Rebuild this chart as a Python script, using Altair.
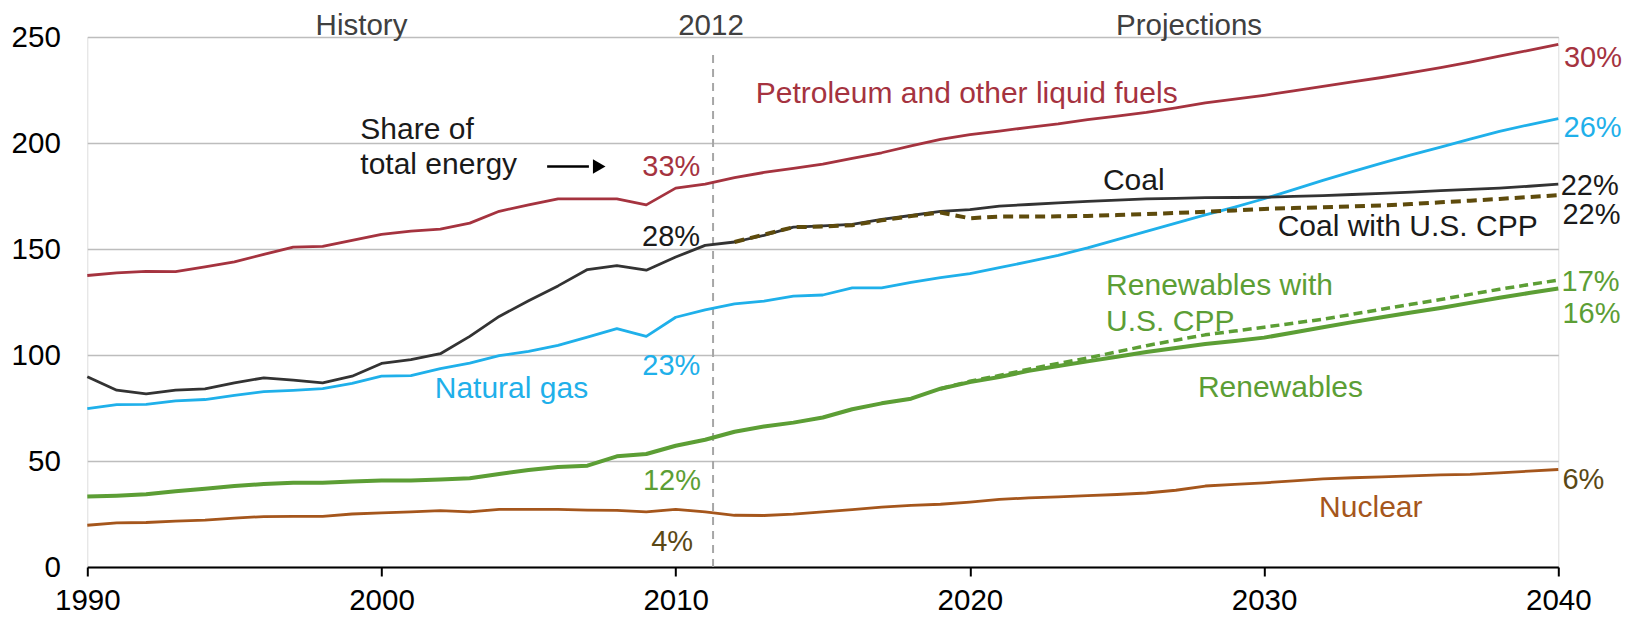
import altair as alt
import pandas as pd

# ---------------- data ----------------
years = list(range(1990, 2041))

petroleum = [137.5, 138.7, 139.4, 139.3, 141.6, 143.9, 147.5, 150.9, 151.2, 154.1,
             156.9, 158.4, 159.4, 162.2, 167.8, 170.8, 173.6, 173.6, 173.6, 170.8,
             178.7, 180.6, 183.7, 186.1, 188.0, 190.0, 192.8, 195.4, 198.6, 201.7,
             204.0, 205.6, 207.4, 209.0, 211.0, 212.7, 214.4, 216.6, 218.9, 220.7,
             222.5, 224.6, 226.7, 228.8, 230.9, 233.2, 235.6, 238.2, 241.0, 243.7,
             246.5]

coal = [89.7, 83.4, 81.7, 83.4, 84.0, 86.9, 89.2, 88.1, 86.9, 90.0,
        96.0, 97.8, 100.6, 108.8, 118.2, 125.6, 132.6, 140.3, 142.2, 140.0,
        146.2, 151.7, 153.3, 156.4, 160.3, 160.9, 161.6, 164.0, 165.8, 167.7,
        168.6, 170.2, 171.0, 171.8, 172.5, 173.1, 173.6, 173.9, 174.2, 174.3,
        174.4, 174.8, 175.2, 175.7, 176.2, 176.8, 177.5, 178.1, 178.7, 179.6,
        180.6]

natural_gas = [74.7, 76.6, 76.7, 78.4, 79.0, 81.0, 82.7, 83.3, 84.1, 86.6,
               90.0, 90.3, 93.6, 96.2, 99.7, 101.7, 104.5, 108.4, 112.4, 108.8,
               117.8, 121.3, 124.1, 125.4, 127.8, 128.3, 131.7, 131.7, 134.2, 136.5,
               138.4, 141.2, 144.0, 147.0, 150.5, 154.4, 158.3, 162.2, 166.1, 169.8,
               173.7, 178.0, 182.4, 186.5, 190.5, 194.4, 198.1, 201.8, 205.5, 208.6,
               211.5]

renewables = [33.2, 33.6, 34.3, 35.7, 36.9, 38.2, 39.1, 39.7, 39.7, 40.3,
              40.8, 40.8, 41.3, 41.9, 43.9, 45.8, 47.2, 47.8, 52.2, 53.3,
              57.2, 60.0, 63.8, 66.3, 68.1, 70.5, 74.4, 77.2, 79.4, 84.1,
              87.2, 89.6, 92.5, 94.8, 97.0, 99.2, 101.4, 103.3, 105.2, 106.6,
              108.2, 110.6, 113.1, 115.5, 117.8, 120.0, 122.2, 124.6, 127.0, 129.2,
              131.4]

nuclear = [19.7, 20.8, 21.0, 21.6, 22.1, 23.1, 23.8, 23.9, 23.9, 25.0,
           25.5, 26.0, 26.6, 26.0, 27.2, 27.2, 27.2, 26.8, 26.7, 26.0,
           27.2, 26.0, 24.4, 24.3, 24.9, 26.0, 27.1, 28.2, 29.1, 29.6,
           30.6, 31.9, 32.6, 33.1, 33.7, 34.2, 34.9, 36.2, 38.2, 39.0,
           39.7, 40.6, 41.6, 42.1, 42.5, 43.0, 43.5, 43.7, 44.4, 45.2,
           46.0]

coal_cpp_years = list(range(2012, 2041))
coal_cpp = [153.3, 156.8, 160.3, 160.6, 161.2, 163.5, 165.5, 167.2, 164.5, 165.3,
            165.3, 165.4, 165.6, 166.0, 166.5, 167.0, 167.6, 168.2, 168.9, 169.3,
            169.7, 170.1, 170.5, 171.2, 172.0, 172.8, 173.6, 174.5, 175.4]

ren_cpp_years = list(range(2019, 2041))
renewables_cpp = [84.1, 87.6, 90.3, 93.3, 96.0, 98.6, 101.5, 104.4, 107.0, 109.5,
                  111.3, 113.1, 115.0, 116.9, 119.2, 121.6, 123.9, 126.2, 128.6, 131.0,
                  133.2, 135.3]

x_ticks = [1990, 2000, 2010, 2020, 2030, 2040]
y_ticks = [0, 50, 100, 150, 200, 250]

history_end = 2011.27

# annotation texts (positions in data units)
center_texts = ["History", "2012", "Projections"]
center_x = [1999.32, 2011.2, 2027.45]
center_y = [251.0, 251.0, 251.0]

word_texts = ["Share of", "total energy", "Petroleum and other liquid fuels", "Natural gas",
              "Coal", "Coal with U.S. CPP", "Renewables with", "U.S. CPP", "Renewables", "Nuclear"]
word_x = [1999.28, 1999.28, 2012.72, 2001.81, 2024.52, 2030.46, 2024.63, 2024.63, 2027.75, 2031.87]
word_y = [201.8, 185.3, 218.9, 79.9, 177.8, 155.9, 128.3, 111.1, 80.2, 23.6]
word_key = ["black", "black", "pet", "gas", "black", "black", "ren", "ren", "ren", "nuc"]

right_pct = ["30%", "26%", "22%", "22%", "17%", "16%", "6%"]
right_x = [2040.19, 2040.18, 2040.08, 2040.14, 2040.11, 2040.14, 2040.14]
right_y = [236.0, 203.0, 175.6, 161.6, 130.3, 115.0, 36.6]
right_key = ["pet", "gas", "black", "black", "ren", "ren", "olive"]

left_pct = ["33%", "28%", "23%", "12%", "4%"]
left_x = [2010.84, 2010.83, 2010.84, 2010.86, 2010.59]
left_y = [184.5, 151.3, 90.5, 36.5, 7.7]
left_key = ["pet", "black", "gas", "ren", "olive"]

arrow_x = [2005.63, 2007.05]
arrow_y = 188.9
arrow_head_x = 2007.4

# ---------------- styles ----------------
COL = {
    "pet": "#a5333f",
    "gas": "#1fb0ea",
    "black": "#1a1a1a",
    "coal": "#333333",
    "coalcpp": "#5e4b0c",
    "ren": "#5c9e35",
    "nuc": "#a5561c",
    "olive": "#5a4815",
    "head": "#404040",
}
FONT = "Liberation Sans, Arial, sans-serif"

x_scale = alt.Scale(domain=[1990, 2040], nice=False, zero=False)
y_scale = alt.Scale(domain=[0, 250], nice=False, zero=True)

x_axis = alt.Axis(values=x_ticks, format="d", title=None, grid=False,
                  domainColor="#000000", domainWidth=2, tickColor="#000000",
                  tickWidth=2, tickSize=9, labelPadding=10, labelFontSize=29.5,
                  labelColor="#000000", labelFont=FONT, labelFlush=False)
y_axis = alt.Axis(values=y_ticks, title=None, grid=True, gridColor="#bdbdbd",
                  gridWidth=1.5, domain=False, ticks=False, labelPadding=27,
                  labelFontSize=29.5, labelColor="#000000", labelFont=FONT)


def X(field="year"):
    return alt.X(f"{field}:Q", scale=x_scale, axis=x_axis)


def Y(field="value"):
    return alt.Y(f"{field}:Q", scale=y_scale, axis=y_axis)


def line(xs, ys, color, width, dash=None):
    df = pd.DataFrame({"year": xs, "value": ys})
    kw = dict(color=color, strokeWidth=width, strokeJoin="round")
    if dash:
        kw["strokeDash"] = dash
        kw["strokeCap"] = "butt"
    return alt.Chart(df).mark_line(**kw).encode(x=X(), y=Y())


layers = []

# 2012 divider
div_df = pd.DataFrame({"year": [history_end], "value": [0.0], "value2": [243.9]})
layers.append(alt.Chart(div_df).mark_rule(color="#a6a6a6", strokeWidth=2, strokeDash=[8, 6])
              .encode(x=X(), y=Y(), y2="value2:Q"))

layers.append(line(years, petroleum, COL["pet"], 2.8))
layers.append(line(years, natural_gas, COL["gas"], 2.8))
layers.append(line(years, coal, COL["coal"], 2.8))
layers.append(line(coal_cpp_years, coal_cpp, COL["coalcpp"], 4, dash=[10, 6]))
layers.append(line(years, renewables, COL["ren"], 4))
layers.append(line(ren_cpp_years, renewables_cpp, COL["ren"], 3.5, dash=[9, 5]))
layers.append(line(years, nuclear, COL["nuc"], 2.8))

# arrow
arr_df = pd.DataFrame({"year": [arrow_x[0]], "year2": [arrow_x[1]], "value": [arrow_y]})
layers.append(alt.Chart(arr_df).mark_rule(color="#000000", strokeWidth=2.5)
              .encode(x=X(), x2="year2:Q", y=Y()))
head_df = pd.DataFrame({"year": [arrow_head_x], "value": [arrow_y]})
layers.append(alt.Chart(head_df).mark_point(shape="triangle-right", filled=True, size=210,
                                            color="#000000", opacity=1)
              .encode(x=X(), y=Y()))


def texts(txt, xs, ys, colors, align, size):
    df = pd.DataFrame({"t": txt, "year": xs, "value": ys, "c": colors})
    return alt.Chart(df).mark_text(align=align, baseline="alphabetic", fontSize=size,
                                   font=FONT).encode(
        x=X(), y=Y(), text="t:N", color=alt.Color("c:N", scale=None))


layers.append(texts(center_texts, center_x, center_y, [COL["head"]] * 3, "center", 29.5))
layers.append(texts(word_texts, word_x, word_y, [COL[k] for k in word_key], "left", 30))
layers.append(texts(right_pct, right_x, right_y, [COL[k] for k in right_key], "left", 29))
layers.append(texts(left_pct, left_x, left_y, [COL[k] for k in left_key], "right", 29))

chart = alt.layer(*layers).properties(
    width=1471,
    height=530,
    padding={"left": 79.3, "top": 29, "right": 63.7, "bottom": 48},
    autosize=alt.AutoSizeParams(type="none"),
).configure_view(stroke=None).configure(background="#ffffff")

chart.save("out.html", embed_options={"renderer": "svg", "actions": False})
